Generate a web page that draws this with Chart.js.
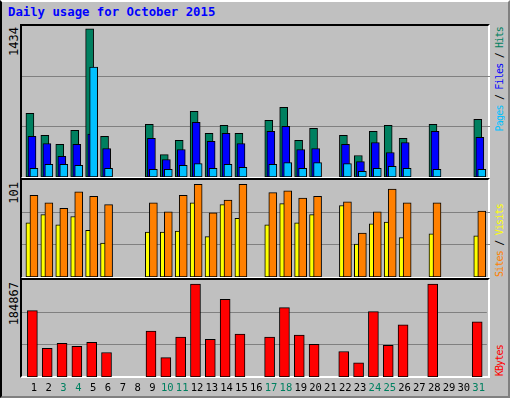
<!DOCTYPE html>
<html><head><meta charset="utf-8">
<script src="https://cdn.jsdelivr.net/npm/chart.js@4/dist/chart.umd.min.js"></script>
<style>
body{margin:0;background:#fff}
#frame{position:absolute;left:0;top:0;background:#c0c0c0;border-left:2px solid #000;border-top:2px solid #fff;border-right:2px solid #808080;border-bottom:2px solid #808080;width:506px;height:394px}
.panel{position:absolute;left:20px;width:470px;border-top:2px solid #000;border-left:2px solid #000;border-right:2px solid #fff;border-bottom:2px solid #fff;box-sizing:border-box}
canvas{position:absolute}
.t{position:absolute;font-family:"DejaVu Sans Mono",monospace;font-size:12px;white-space:nowrap}
.rot{position:absolute;font-family:"DejaVu Sans Mono",monospace;font-size:12px;white-space:nowrap;writing-mode:vertical-rl;transform:rotate(180deg);line-height:12px}
.rl{font-size:10px;letter-spacing:-0.8px;line-height:10px}
</style></head><body>
<div id="frame"></div>
<div class="t" style="left:8px;top:5px;color:#0000ff;font-weight:bold;font-size:12.3px">Daily usage for October 2015</div>
<div class="panel" style="top:24px;height:155px"></div>
<div class="panel" style="top:178px;height:101px"></div>
<div class="panel" style="top:278px;height:100px"></div>
<div class="rot" style="left:8px;top:27px;color:#000">1434</div>
<div class="rot" style="left:8px;top:182px;color:#000">101</div>
<div class="rot" style="left:8px;top:282px;color:#000">184867</div>
<div class="rot rl" style="left:495px;top:27px"><span style="color:#00c0ff">Pages</span> / <span style="color:#0000ff">Files</span> / <span style="color:#008060">Hits</span></div>
<div class="rot rl" style="left:495px;bottom:123px"><span style="color:#ff8000">Sites</span> / <span style="color:#ffff00">Visits</span></div>
<div class="rot rl" style="left:495px;bottom:24px;color:#ff0000">KBytes</div>
<canvas id="c1" style="left:22px;top:26px;width:468px;height:151px"></canvas>
<canvas id="c2" style="left:22px;top:180px;width:468px;height:97px"></canvas>
<canvas id="c3" style="left:22px;top:280px;width:468px;height:118px"></canvas>
<script>
const days=[1,2,3,4,5,6,9,10,11,12,13,14,15,17,18,19,20,22,23,24,25,26,28,31];
const weekend=[3,4,10,11,17,18,24,25,31];
const hits=[616,402,315,451,1434,393,509,217,354,636,422,500,422,548,675,354,470,402,208,441,500,373,509,558];
const files=[393,324,201,315,415,276,373,169,266,529,344,422,324,441,490,266,276,315,149,334,237,334,441,383];
const pages=[84,123,123,114,1064,84,75,75,114,130,84,123,94,123,139,84,139,130,55,84,104,84,75,75];
const visits=[59,68,57,66,51,37,49,49,50,81,44,79,64,57,80,59,68,78,36,58,60,43,47,45];
const sites=[89,81,75,93,88,79,81,71,89,101,70,84,101,92,94,86,88,82,48,71,96,81,81,72];
const kbytes=[132050,56880,67040,60950,69070,48760,91420,38600,79230,184867,75170,154400,85330,79230,138150,83300,65010,50790,28440,130020,62980,103610,184867,109710];
const allDays=Array.from({length:31},(_,i)=>i+1);

function ds(vals,off,color,w,order){
  return {data:days.map((d,i)=>({x:d+off,y:vals[i]})),backgroundColor:color,borderColor:'#000',borderWidth:1,barThickness:w,grouped:false,borderSkipped:false,order:order};
}
function yScale(max){
  return {min:0,max:max,display:true,border:{display:false},ticks:{display:false},
    grid:{color:'#808080',lineWidth:1,drawTicks:false},
    afterBuildTicks:s=>{s.ticks=[{value:max/3},{value:2*max/3}];},
    afterFit:s=>{s.width=0;}};
}
function xScale(show){
  return {type:'linear',min:0.2,max:31.55,display:show,offset:false,
    grid:{display:false,drawTicks:false},border:{display:false},
    afterBuildTicks:s=>{s.ticks=allDays.map(v=>({value:v}));},
    ticks:{autoSkip:false,maxRotation:0,padding:5,font:{family:'DejaVu Sans Mono',size:10.5},
      color:c=>weekend.includes(c.tick.value)?'#008060':'#000',callback:v=>String(v)},
    afterFit:s=>{if(show)s.height=21;}};
}
const base={animation:false,responsive:false,maintainAspectRatio:false,devicePixelRatio:1,
  plugins:{legend:{display:false},tooltip:{enabled:false}},layout:{padding:0}};
function mk(id,w,h,datasets,max,show){
  const c=document.getElementById(id);c.width=w;c.height=h;
  new Chart(c,{type:'bar',data:{datasets},options:Object.assign({},base,{scales:{x:xScale(show),y:yScale(max)}})});
}
mk('c1',468,151,[ds(hits,-0.27,'#008060',8,3),ds(files,-0.13,'#0000ff',8,2),ds(pages,0,'#00c0ff',8,1)],1461,false);
mk('c2',468,97,[ds(visits,-0.27,'#ffff00',8,2),ds(sites,0,'#ff8000',8,1)],105.8,false);
mk('c3',468,118,[ds(kbytes,-0.1,'#ff0000',10,1)],193000,true);
</script>
</body></html>
